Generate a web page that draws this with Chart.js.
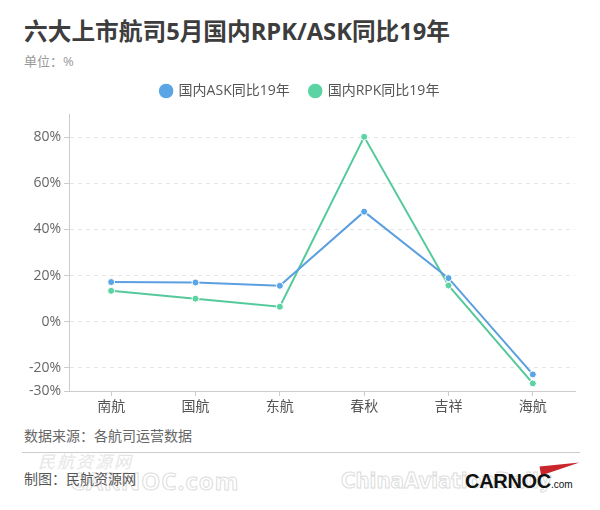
<!DOCTYPE html>
<html><head><meta charset="utf-8">
<script src="https://cdn.jsdelivr.net/npm/chart.js@4/dist/chart.umd.min.js"></script>
<style>
html,body{margin:0;padding:0;background:#fff;width:600px;height:510px;overflow:hidden;font-family:'Open Sans','Noto Sans CJK SC',sans-serif;}
.abs{position:absolute;white-space:nowrap;line-height:1.2;}
#title{left:24px;top:17px;font-size:23.7px;font-weight:bold;color:#3d3d3d;}
#unit{left:24px;top:54px;font-size:13px;color:#999;}
#wrap{position:absolute;left:0;top:64px;width:600px;height:356px;}
#src{left:24px;top:428px;font-size:14px;color:#666;}
#hr{position:absolute;left:22px;top:452px;width:558px;height:1px;background:#ccc;}
#maker{left:24px;top:471px;font-size:14px;color:#555;}
#wm1{left:38px;top:452px;font-size:17px;font-style:italic;color:#e6e6e6;letter-spacing:2px;}
#wm2{left:70px;top:467px;font-size:24px;font-weight:bold;color:transparent;-webkit-text-stroke:1px #ddd;letter-spacing:1px;}
#wm3{left:341px;top:468px;font-size:22px;font-weight:bold;color:transparent;-webkit-text-stroke:1px #ddd;font-family:'Liberation Sans Narrow','DejaVu Sans Condensed',sans-serif;}
#logo{left:465px;top:469px;font-size:20px;font-weight:900;color:#111;font-family:'Liberation Sans',Arial,sans-serif;letter-spacing:-0.3px;}
#logo small{font-size:10px;font-weight:normal;letter-spacing:0;}
#swoosh{position:absolute;left:540px;top:463px;width:0;height:0;border-top:3px solid transparent;border-bottom:6px solid transparent;border-left:40px solid #c8262c;transform:rotate(-10deg);}
</style></head>
<body>
<div id="title" class="abs">六大上市航司5月国内RPK/ASK同比19年</div>
<div id="unit" class="abs">单位：%</div>
<div id="wrap"><canvas id="c"></canvas></div>
<div id="src" class="abs">数据来源：各航司运营数据</div>
<div id="hr"></div>
<div id="wm1" class="abs">民航资源网</div>
<div id="wm2" class="abs">CARNOC.com</div>
<div id="wm3" class="abs">ChinaAviationDaily</div>
<div id="maker" class="abs">制图：民航资源网</div>
<div id="swoosh"></div>
<div id="logo" class="abs">CARNOC<small>.com</small></div>
<script>
const categories = ['南航','国航','东航','春秋','吉祥','海航'];
const askValues = [17.2, 17.0, 15.6, 47.7, 18.9, -22.8];
const rpkValues = [13.4, 10.0, 6.5, 80.1, 15.7, -26.7];
const yTicks = [-30, -20, 0, 20, 40, 60, 80];
const seriesNames = ['国内ASK同比19年', '国内RPK同比19年'];

const FONT = "'Open Sans','Noto Sans CJK SC',sans-serif";
const blue = '#5aa5e6', green = '#5cd3a2';

const legendGap = {
  id: 'legendGap',
  afterInit(chart) {
    const lg = chart.legend;
    if (!lg) return;
    const fit = lg.fit.bind(lg);
    lg.fit = function () { fit(); this.height = 50; };
  }
};

new Chart(document.getElementById('c'), {
  type: 'line',
  data: {
    labels: categories,
    datasets: [
      {label: seriesNames[0], data: askValues, borderColor: '#5b9fe0', backgroundColor: blue,
       borderWidth: 2, pointRadius: 3.5, pointBorderWidth: 1, pointBorderColor: '#fff', pointBackgroundColor: blue, tension: 0},
      {label: seriesNames[1], data: rpkValues, borderColor: '#55c99b', backgroundColor: green,
       borderWidth: 2, pointRadius: 3.5, pointBorderWidth: 1, pointBorderColor: '#fff', pointBackgroundColor: green, tension: 0}
    ]
  },
  plugins: [legendGap],
  options: {
    responsive: true, maintainAspectRatio: false, animation: false,
    layout: {padding: {left: 0, right: 0, top: 0, bottom: 0}},
    plugins: {
      legend: {
        position: 'top',
        labels: {usePointStyle: true, pointStyle: 'circle', boxWidth: 11, boxHeight: 11, padding: 20,
                 color: '#555', font: {family: FONT, size: 14}}
      },
      tooltip: {enabled: false}
    },
    scales: {
      x: {
        offset: true,
        grid: {display: true, drawOnChartArea: false, drawTicks: true, tickLength: 5, color: '#ccc'},
        border: {display: true, color: '#ccc', width: 1},
        ticks: {color: '#555', font: {family: FONT, size: 14}, padding: 3},
        afterFit: s => { s.height = 29; }
      },
      y: {
        min: -30, max: 90,
        afterBuildTicks: s => { s.ticks = yTicks.map(v => ({value: v})); },
        grid: {color: ctx => (ctx.tick && ctx.tick.value === -30) ? 'rgba(0,0,0,0)' : '#e6e6e6',
               tickColor: '#ccc', tickLength: 5, tickBorderDash: [], drawTicks: true},
        border: {display: true, color: '#ccc', width: 1, dash: [4, 4]},
        ticks: {color: '#666', font: {family: FONT, size: 14}, padding: 3, callback: v => v + '%'},
        afterFit: s => { s.width = 69; }
      },
      yPad: {
        type: 'linear', position: 'right', display: true, min: -30, max: 90,
        grid: {display: false, drawOnChartArea: false, drawTicks: false},
        border: {display: false},
        ticks: {display: false},
        afterFit: s => { s.width = 25; }
      }
    }
  }
});
</script>
</body></html>
